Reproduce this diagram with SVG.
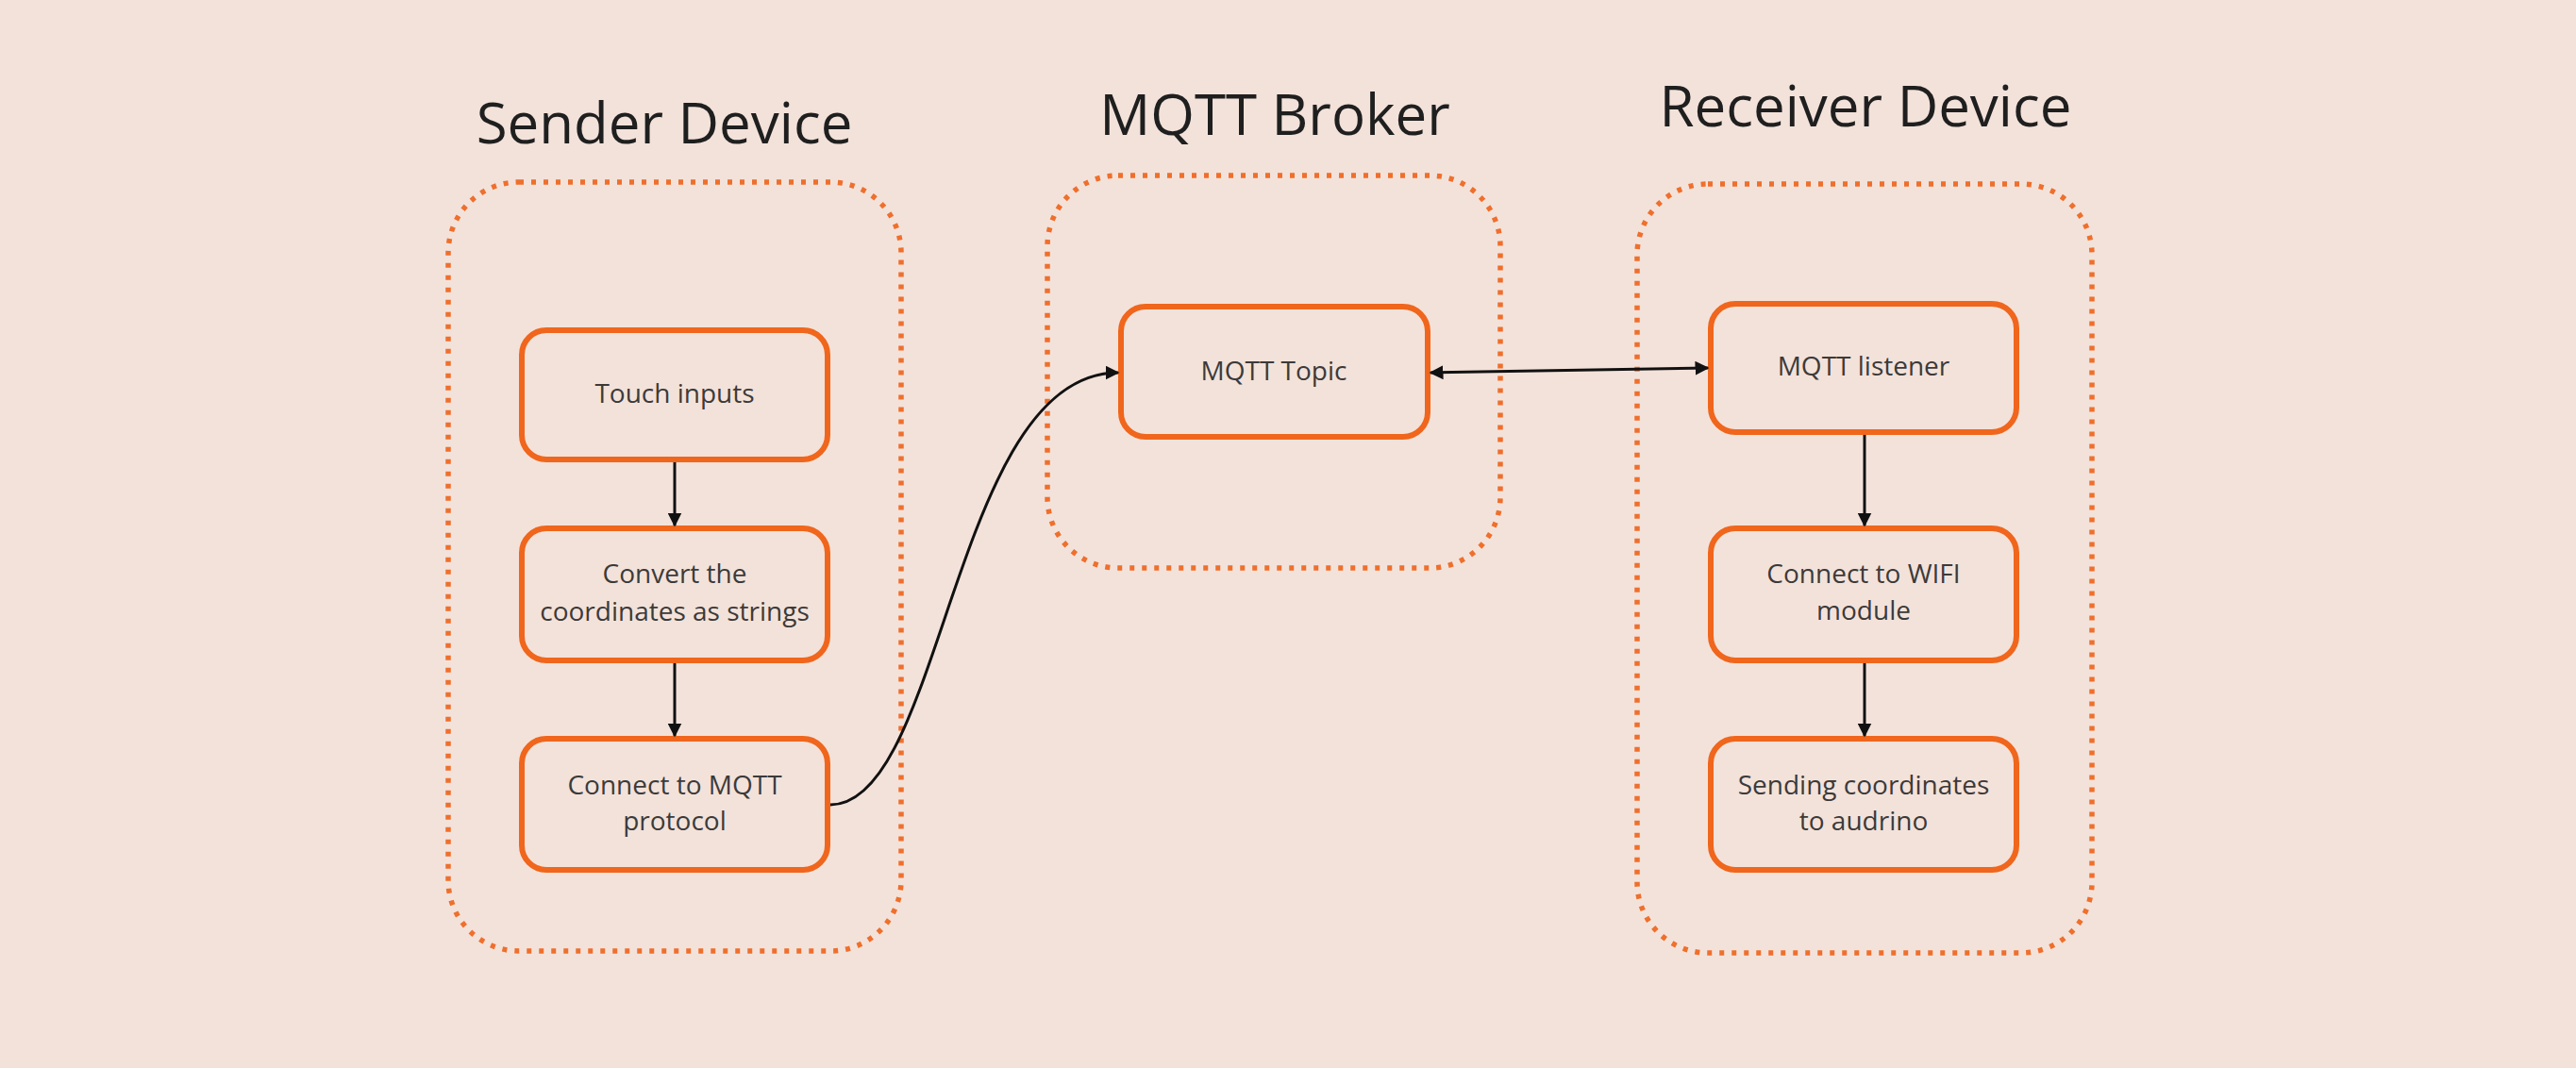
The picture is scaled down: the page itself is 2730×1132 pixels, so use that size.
<svg xmlns="http://www.w3.org/2000/svg" width="2730" height="1132" viewBox="0 0 2730 1132">
<defs>
<style>
.bg{fill:#F3E2DA}
.container{fill:none;stroke:#EF6F2C;stroke-width:5.5;stroke-dasharray:5 8}
.box{fill:#F3E2DA;stroke:#F0661C;stroke-width:6}
.title{font-family:"Open Sans","Liberation Sans",sans-serif;font-size:60px;fill:#1F1F1F;text-anchor:middle}
.label{font-family:"Open Sans","Liberation Sans",sans-serif;font-size:28px;fill:#3C3A39;text-anchor:middle}
.edge{fill:none;stroke:#111;stroke-width:3}
</style>
<marker id="ah" viewBox="0 0 10 10" refX="9" refY="5" markerWidth="5" markerHeight="5" orient="auto-start-reverse" markerUnits="strokeWidth">
<path d="M0,0 L10,5 L0,10 z" fill="#111"/>
</marker>
</defs>
<rect class="bg" x="0" y="0" width="2730" height="1132"/>

<g id="sender-device">
<text class="title" x="704" y="152">Sender Device</text>
<rect class="container" x="475" y="193" width="480" height="815" rx="75"/>
</g>
<g id="mqtt-broker">
<text class="title" x="1351" y="143">MQTT Broker</text>
<rect class="container" x="1110" y="186" width="480" height="416" rx="75"/>
</g>
<g id="receiver-device">
<text class="title" x="1977" y="134">Receiver Device</text>
<rect class="container" x="1735" y="195" width="482" height="815" rx="75"/>
</g>

<g id="touch-inputs">
<rect class="box" x="553" y="350" width="324" height="137" rx="26"/>
<text class="label" x="715" y="427">Touch inputs</text>
</g>
<g id="convert-coordinates">
<rect class="box" x="553" y="560" width="324" height="140" rx="26"/>
<text class="label" x="715" y="618">Convert the</text>
<text class="label" x="715" y="658">coordinates as strings</text>
</g>
<g id="connect-mqtt">
<rect class="box" x="553" y="783" width="324" height="139" rx="26"/>
<text class="label" x="715" y="842">Connect to MQTT</text>
<text class="label" x="715" y="880">protocol</text>
</g>
<g id="mqtt-topic">
<rect class="box" x="1188" y="325" width="325" height="138" rx="26"/>
<text class="label" x="1350" y="403">MQTT Topic</text>
</g>
<g id="mqtt-listener">
<rect class="box" x="1813" y="322" width="324" height="136" rx="26"/>
<text class="label" x="1975" y="398">MQTT listener</text>
</g>
<g id="connect-wifi">
<rect class="box" x="1813" y="560" width="324" height="140" rx="26"/>
<text class="label" x="1975" y="618">Connect to WIFI</text>
<text class="label" x="1975" y="657">module</text>
</g>
<g id="sending-coordinates">
<rect class="box" x="1813" y="783" width="324" height="139" rx="26"/>
<text class="label" x="1975" y="842">Sending coordinates</text>
<text class="label" x="1975" y="880">to audrino</text>
</g>

<g id="connectors">
<line class="edge" x1="715" y1="490" x2="715" y2="557" marker-end="url(#ah)"/>
<line class="edge" x1="715" y1="703" x2="715" y2="780" marker-end="url(#ah)"/>
<path class="edge" d="M880,853 C1000,853 1010,395 1185,395" marker-end="url(#ah)"/>
<line class="edge" x1="1516" y1="395" x2="1810" y2="390" marker-start="url(#ah)" marker-end="url(#ah)"/>
<line class="edge" x1="1976" y1="461" x2="1976" y2="557" marker-end="url(#ah)"/>
<line class="edge" x1="1976" y1="703" x2="1976" y2="780" marker-end="url(#ah)"/>
</g>
</svg>
